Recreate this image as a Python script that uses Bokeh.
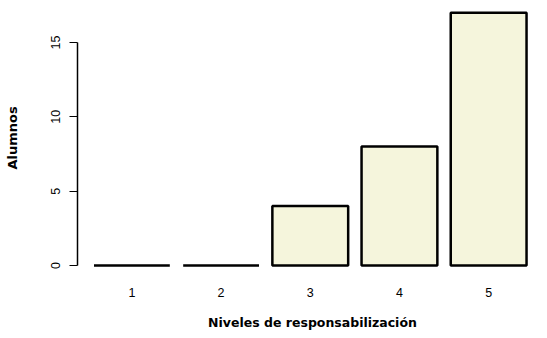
from bokeh.plotting import figure
from bokeh.models import Range1d, FixedTicker, ColumnDataSource
from bokeh.embed import file_html
from bokeh.resources import INLINE

niveles = [1, 2, 3, 4, 5]
alumnos = [0, 0, 4, 8, 17]
y_ticks = [0, 5, 10, 15]

src = ColumnDataSource(dict(x=niveles, top=alumnos))

p = figure(width=547, height=338, output_backend="svg", toolbar_location=None,
           x_range=Range1d(0.39, 5.66), y_range=Range1d(-0.67, 17.82),
           min_border_left=77, min_border_right=0, min_border_top=0, min_border_bottom=63)
p.outline_line_color = None
p.xgrid.visible = False
p.ygrid.visible = False
p.background_fill_color = "white"

p.vbar(x="x", top="top", bottom=0, width=0.85, source=src,
       fill_color="#F5F5DC", line_color="black", line_width=2.5)

xa = p.xaxis[0]
xa.ticker = FixedTicker(ticks=niveles)
xa.axis_line_color = None
xa.major_tick_line_color = None
xa.minor_tick_line_color = None
xa.major_label_text_font = "Liberation Sans"
xa.major_label_text_font_size = "12.5px"
xa.major_label_text_color = "black"
xa.major_label_standoff = 6
xa.axis_label = "Niveles de responsabilización"
xa.axis_label_text_font = "DejaVu Sans"
xa.axis_label_text_font_style = "bold"
xa.axis_label_text_font_size = "12.5px"
xa.axis_label_text_color = "black"
xa.axis_label_standoff = 15

ya = p.yaxis[0]
ya.ticker = FixedTicker(ticks=y_ticks)
ya.bounds = (0, 15)
ya.axis_line_color = "black"
ya.axis_line_width = 1.5
ya.major_tick_line_color = "black"
ya.major_tick_line_width = 1.2
ya.major_tick_out = 8
ya.major_tick_in = 0
ya.minor_tick_line_color = None
ya.major_label_orientation = "vertical"
ya.major_label_text_font = "Liberation Sans"
ya.major_label_text_font_size = "12.5px"
ya.major_label_text_color = "black"
ya.major_label_standoff = 9
ya.axis_label = "Alumnos"
ya.axis_label_text_font = "DejaVu Sans"
ya.axis_label_text_font_style = "bold"
ya.axis_label_text_font_size = "13px"
ya.axis_label_text_color = "black"
ya.axis_label_standoff = 29

open("out.html", "w").write(file_html(p, INLINE))
